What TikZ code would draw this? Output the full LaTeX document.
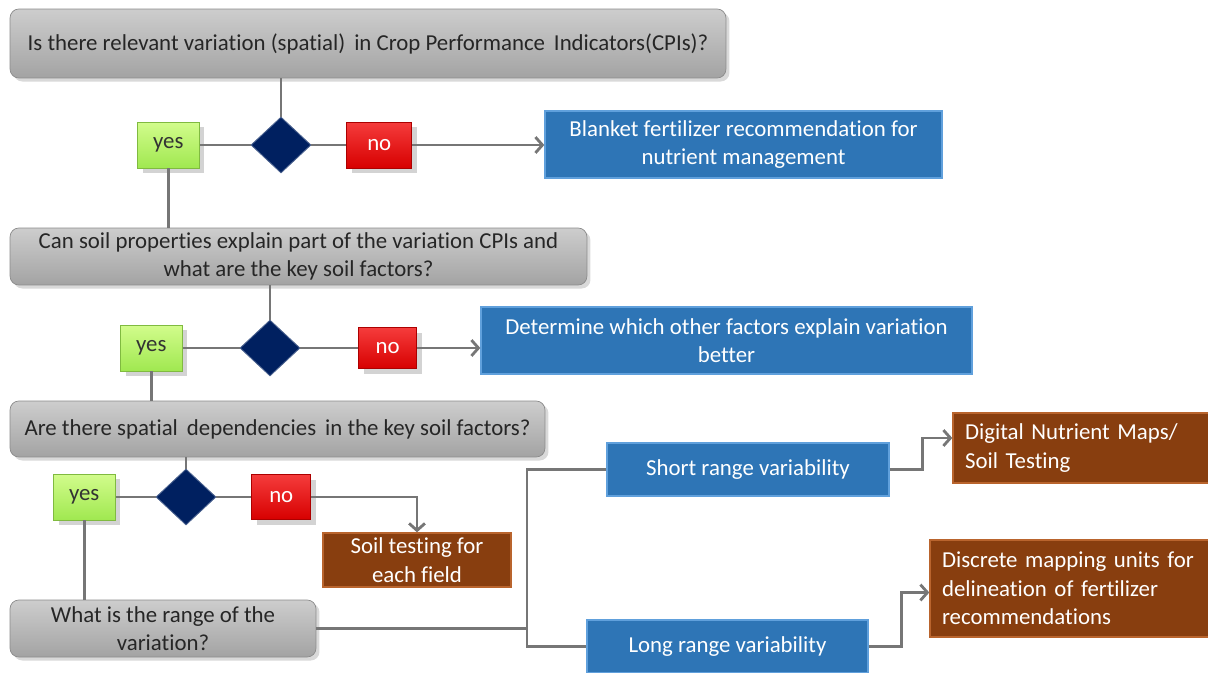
\documentclass[tikz,border=0pt]{standalone}
\usepackage{fontspec}
\setmainfont{Carlito}[Ligatures=NoCommon]
\usepackage{tikz}
\usetikzlibrary{positioning,shapes.geometric,shadows,arrows.meta}
\definecolor{qgray}{RGB}{163,163,163}
\definecolor{qgrayl}{RGB}{205,205,205}
\definecolor{rblue}{RGB}{46,117,182}
\definecolor{rbluel}{RGB}{96,160,220}
\definecolor{rbrown}{RGB}{136,62,15}
\definecolor{rbrownl}{RGB}{185,100,45}
\definecolor{ygreen}{RGB}{160,232,80}
\definecolor{ygreenl}{RGB}{210,252,140}
\definecolor{nred}{RGB}{215,0,0}
\definecolor{nredl}{RGB}{245,60,60}
\definecolor{dnavy}{RGB}{0,32,96}
\definecolor{cgray}{RGB}{118,118,118}
\tikzset{qbox/.style={rounded corners=5pt,top color=qgrayl,middle color=qgray,bottom color=qgray,
		draw=qgray!85!black,line width=0.4pt,align=center,text=black!85,
		drop shadow={opacity=0.3,shadow xshift=2pt,shadow yshift=-2pt}},
	 bbox/.style={fill=rblue,draw=rbluel,line width=0.8pt,align=center,text=white,inner sep=0pt},
	 obox/.style={fill=rbrown,draw=rbrownl,line width=0.8pt,text=white,inner sep=0pt},
	 yesbox/.style={top color=ygreenl,bottom color=ygreen,draw=ygreen!80!black,line width=0.4pt,
		minimum width=1.24cm,minimum height=0.92cm,inner sep=0pt,text=black!80,
		drop shadow={opacity=0.35,shadow xshift=3pt,shadow yshift=-3pt}},
	 nobox/.style={top color=nredl,bottom color=nred,draw=nred!80!black,line width=0.4pt,
		minimum width=1.3cm,minimum height=0.92cm,inner sep=0pt,text=white,
		drop shadow={opacity=0.35,shadow xshift=3pt,shadow yshift=-3pt}},
	 dmond/.style={diamond,fill=dnavy,draw=dnavy!70!white,line width=0.5pt,inner sep=0pt,
		minimum width=1.2cm,minimum height=1.12cm},
	 conn/.style={draw=cgray,line width=1.6pt},
	 arr/.style={conn,-{Straight Barb[length=4pt,width=9pt,line width=1.6pt]}},
	 node distance = 1
	 }

\begin{document}
\begin{tikzpicture}[x=0.02cm,y=-0.02cm,font=\fontsize{13}{16.3}\selectfont] % spatial variation -> nutrient management
	\useasboundingbox (0,0) rectangle (1208,673);
	% questions
	\node[qbox,minimum width=14.32cm,minimum height=1.38cm] (q1) at (368,43.5) {Is there relevant variation (spatial)\, in Crop Performance\, Indicators(CPIs)?};
	\node[qbox,minimum width=11.54cm,minimum height=1.14cm,inner sep=0pt] (q2) at (298.5,256.5) {Can soil properties explain part of the variation CPIs and\\what are the key soil factors?};
	\node[qbox,minimum width=10.7cm,minimum height=1.12cm] (q3) at (277.5,429) {Are there spatial\, dependencies\, in the key soil factors?};
	\node[qbox,minimum width=6.12cm,minimum height=1.14cm,inner sep=0pt] (q4) at (163,628.5) {What is the range of the\\variation?};
	% decisions
	\node[dmond] (d1) at (281,145) {};
	\node[yesbox] (y1) [left=1.02cm of d1] {yes};
	\node[nobox] (n1) [right=0.7cm of d1] {no};
	\node[dmond] (d2) at (270,348) {};
	\node[yesbox] (y2) [left=1.14cm of d2] {yes};
	\node[nobox,minimum width=1.16cm,minimum height=0.82cm] (n2) [right=1.16cm of d2] {no};
	\node[dmond] (d3) at (186,497) {};
	\node[yesbox] (y3) [left=0.8cm of d3] {yes};
	\node[nobox,minimum width=1.18cm,minimum height=0.9cm] (n3) [right=0.7cm of d3] {no};
	% outcomes
	\node[bbox,minimum width=7.94cm,minimum height=1.34cm] (b1) at (743.5,144.5) {Blanket fertilizer recommendation for\\nutrient management};
	\node[bbox,minimum width=9.82cm,minimum height=1.34cm] (b2) at (726.5,340.5) {Determine which other factors explain variation\\better};
	\node[obox,align=center,minimum width=3.76cm,minimum height=1.08cm] (s1) at (417,560) {Soil testing for\\each field};
	\node[bbox,minimum width=5.64cm,minimum height=1.06cm] (r1) at (748,469.5) {Short range variability};
	\node[bbox,minimum width=5.62cm,minimum height=1.06cm] (r2) at (727.5,646.5) {Long range variability};
	\node[obox,align=left,text width=4.76cm,inner xsep=0.24cm,minimum height=1.4cm] (m1) at (1084,448) {Digital Nutrient Maps/\\Soil Testing};
	\node[obox,align=left,text width=5.22cm,inner xsep=0.24cm,minimum height=1.94cm] (m2) at (1072.5,588.5) {Discrete mapping units for\\delineation of fertilizer\\recommendations};
	\coordinate (j1) at (527,628.5);
	% connectors
	\draw[conn] (q1.south -| d1.north) -- (d1.north);
	\draw[conn] (y1.east) -- (d1.west);
	\draw[conn] (d1.east) -- (n1.west);
	\draw[arr] (n1.east) -- (n1.east -| b1.west);
	\draw[conn] (y1.south) -- (y1.south |- q2.north);
	\draw[conn] (q2.south -| d2.north) -- (d2.north);
	\draw[conn] (y2.east) -- (d2.west);
	\draw[conn] (d2.east) -- (n2.west);
	\draw[arr] (n2.east) -- (n2.east -| b2.west);
	\draw[conn] (y2.south) -- (y2.south |- q3.north);
	\draw[conn] (q3.south -| d3.north) -- (d3.north);
	\draw[conn] (y3.east) -- (d3.west);
	\draw[conn] (d3.east) -- (n3.west);
	\draw[arr] (n3.east) -| (s1.north);
	\draw[conn] (y3.south) -- (y3.south |- q4.north);
	\draw[conn] (q4.east) -- (j1);
	\draw[conn] (r1.west) -| (j1) |- (r2.west);
	\draw[arr] (r1.east) -- ++(33,0) |- ([yshift=0.2cm]m1.west);
	\draw[arr] (r2.east) -- ++(33,0) |- ([yshift=-0.08cm]m2.west);
\end{tikzpicture}
\end{document}
